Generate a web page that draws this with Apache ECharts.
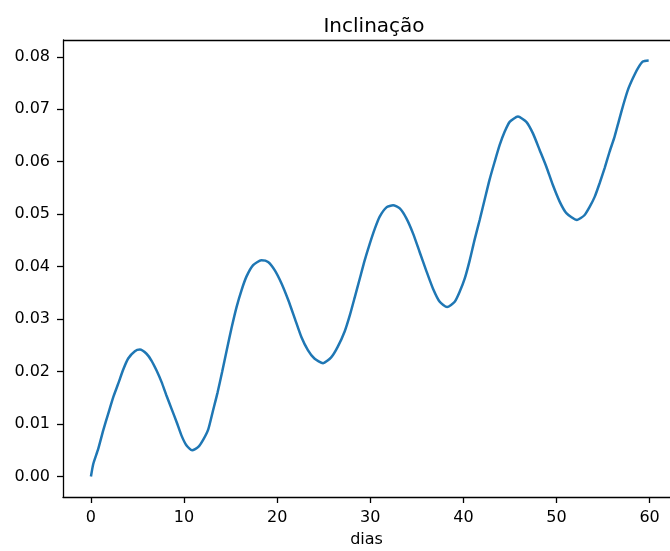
<!DOCTYPE html>
<html>
<head>
<meta charset="utf-8">
<script src="https://cdn.jsdelivr.net/npm/echarts@6/dist/echarts.min.js"></script>
<style>
  html, body { margin: 0; padding: 0; background: #fff; }
  #main { width: 670px; height: 551px; }
</style>
</head>
<body>
<div id="main"></div>
<script>
// valores
const dias = [0, 0.25, 0.79, 1.32, 1.86, 2.39, 2.93, 3.47, 4.0, 4.72, 5.26, 5.97, 6.5, 7.05, 7.59, 8.1, 8.66, 9.2, 9.73, 10.27,
  10.87, 11.5, 12.05, 12.6, 13.1, 13.6, 14.1, 14.6, 15.1, 15.64, 16.17, 16.7, 17.42, 18.3, 19.03, 19.75, 20.47, 21.2, 21.9, 22.6,
  23.3, 24.0, 24.93, 25.8, 26.5, 27.26, 27.8, 28.34, 28.87, 29.4, 29.95, 30.5, 31.0, 31.74, 32.45, 33.17, 33.88, 34.6, 35.3, 36.0,
  36.74, 37.46, 38.25, 39.07, 39.6, 40.14, 40.68, 41.2, 41.75, 42.3, 42.8, 43.36, 43.9, 44.43, 44.97, 45.86, 46.76, 47.47, 48.2, 48.9,
  49.6, 50.34, 51.06, 52.2, 53.0, 53.56, 54.1, 54.63, 55.17, 55.7, 56.24, 56.7, 57.2, 57.67, 58.2, 58.74, 59.27, 59.9];
const inclinacao = [0, 0.0024, 0.0053, 0.0088, 0.0120, 0.0151, 0.0177, 0.0204, 0.0225, 0.0239, 0.0242, 0.0234, 0.0221, 0.0202, 0.0180, 0.0155, 0.0129, 0.0104, 0.0078, 0.0059,
  0.0050, 0.0056, 0.0070, 0.0090, 0.0125, 0.0160, 0.0200, 0.0242, 0.0283, 0.0323, 0.0355, 0.0381, 0.0403, 0.0412, 0.0409, 0.0393, 0.0368, 0.0336, 0.0301, 0.0266,
  0.0241, 0.0225, 0.0216, 0.0227, 0.0247, 0.0277, 0.0307, 0.0342, 0.0377, 0.0412, 0.0444, 0.0473, 0.0495, 0.0513, 0.0517, 0.0511, 0.0492, 0.0463, 0.0428, 0.0393,
  0.0358, 0.0333, 0.0323, 0.0333, 0.0352, 0.0377, 0.0412, 0.0451, 0.0489, 0.0529, 0.0565, 0.0600, 0.0632, 0.0657, 0.0676, 0.0686, 0.0676, 0.0654, 0.0622, 0.0591,
  0.0556, 0.0524, 0.0502, 0.0489, 0.0498, 0.0514, 0.0533, 0.0559, 0.0588, 0.0619, 0.0648, 0.0678, 0.0710, 0.0737, 0.0759, 0.0778, 0.0791, 0.0793];
const xTicks = [0, 10, 20, 30, 40, 50, 60];
const yTicks = [0, 0.01, 0.02, 0.03, 0.04, 0.05, 0.06, 0.07, 0.08];

const font = 'DejaVu Sans';
const axisLine = { show: true, onZero: false, lineStyle: { color: '#000', width: 1.3 } };

let myChart = echarts.init(document.getElementById('main'));
myChart.setOption({
  animation: false,
  title: {
    text: 'Inclinação',
    left: 369,
    top: 12,
    textAlign: 'center',
    textStyle: { fontFamily: font, fontSize: 20, fontWeight: 'normal', color: '#000' }
  },
  grid: { left: 63, right: 0, top: 40, bottom: 54, show: false, outerBoundsMode: 'none', containLabel: false },
  xAxis: {
    type: 'value',
    min: -3,
    max: 62.19,
    name: 'dias',
    nameLocation: 'middle',
    nameGap: 35,
    nameTextStyle: { fontFamily: font, fontSize: 16, color: '#000' },
    axisLine: axisLine,
    axisTick: { show: true, customValues: xTicks, length: 6, lineStyle: { color: '#000', width: 1.3 } },
    axisLabel: { customValues: xTicks, margin: 13, fontFamily: font, fontSize: 16, color: '#000' },
    splitLine: { show: false }
  },
  yAxis: {
    type: 'value',
    min: -0.0039,
    max: 0.0832,
    axisLine: axisLine,
    axisTick: { show: true, customValues: yTicks, length: 6, lineStyle: { color: '#000', width: 1.3 } },
    axisLabel: {
      customValues: yTicks, margin: 13, fontFamily: font, fontSize: 16, color: '#000',
      formatter: v => v.toFixed(2)
    },
    splitLine: { show: false }
  },
  series: [{
    type: 'line',
    data: dias.map((d, i) => [d, inclinacao[i]]),
    showSymbol: false,
    smooth: 0.2,
    lineStyle: { color: '#1f77b4', width: 2.5 }
  }],
  graphic: [{
    // borda superior da área do gráfico
    type: 'line',
    shape: { x1: 63, y1: 40.5, x2: 670, y2: 40.5 },
    style: { stroke: '#000', lineWidth: 1.3 }
  }]
});
</script>
</body>
</html>
